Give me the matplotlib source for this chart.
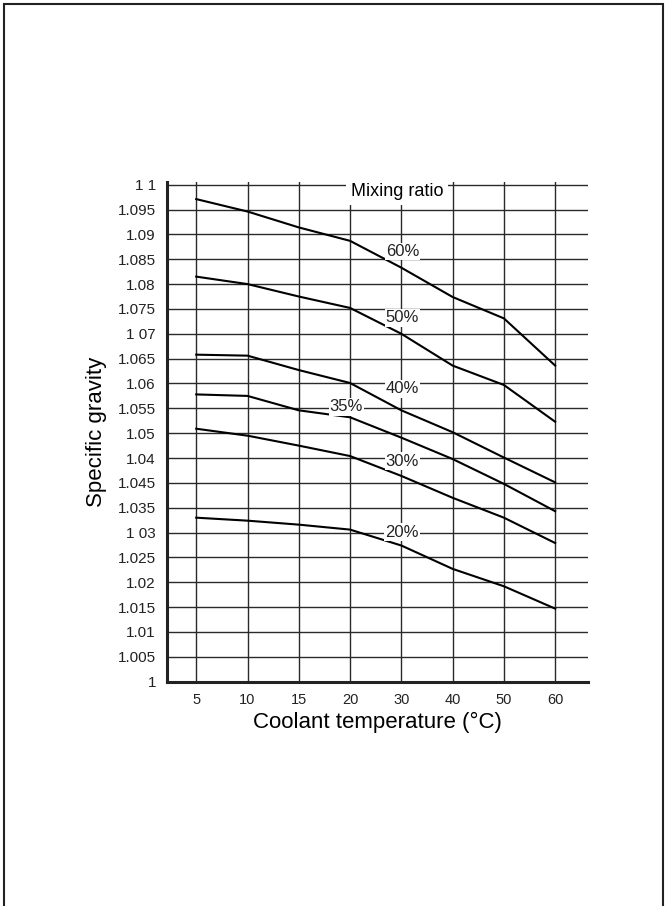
"""
Specific gravity of coolant vs temperature, by mixing ratio
"""

import matplotlib.pyplot as plt
from matplotlib.patches import Rectangle

plt.rcParams['font.family'] = ['Liberation Sans', 'DejaVu Sans']

# x categories (evenly spaced on the chart)
temps = ['5', '10', '15', '20', '30', '40', '50', '60']

# specific gravity, one list per mixing ratio
sg_60 = [1.0971, 1.0946, 1.0914, 1.0887, 1.0833, 1.0774, 1.0731, 1.0636]
sg_50 = [1.0815, 1.0800, 1.0775, 1.0752, 1.0700, 1.0636, 1.0597, 1.0523]
sg_40 = [1.0658, 1.0656, 1.0627, 1.0601, 1.0546, 1.0502, 1.0451, 1.0401]
sg_35 = [1.0578, 1.0575, 1.0546, 1.0532, 1.0491, 1.0448, 1.0398, 1.0343]
sg_30 = [1.0509, 1.0495, 1.0475, 1.0454, 1.0414, 1.0370, 1.0330, 1.0279]
sg_20 = [1.0330, 1.0324, 1.0316, 1.0306, 1.0274, 1.0227, 1.0192, 1.0147]

series = [sg_60, sg_50, sg_40, sg_35, sg_30, sg_20]
ratio_labels = ['60%', '50%', '40%', '35%', '30%', '20%']
# where each ratio label sits (x index, value)
label_pos = [(4.02, 1.0865), (4.02, 1.0732), (4.02, 1.0589),
             (2.93, 1.0553), (4.02, 1.0444), (4.02, 1.0301)]

# y ticks and labels as printed on the original
y_ticks = [1.1, 1.095, 1.09, 1.085, 1.08, 1.075, 1.07, 1.065, 1.06, 1.055,
           1.05, 1.045, 1.04, 1.035, 1.03, 1.025, 1.02, 1.015, 1.01, 1.005, 1.0]
y_labels = ['1 1', '1.095', '1.09', '1.085', '1.08', '1.075', '1 07', '1.065',
            '1.06', '1.055', '1.05', '1.04', '1.045', '1.035', '1 03', '1.025',
            '1.02', '1.015', '1.01', '1.005', '1']


def main():
    fig = plt.figure(figsize=(6.69, 9.06), dpi=100)
    fig.patches.append(Rectangle((3.5 / 669, -0.01), 659.5 / 669, 1 - 4 / 906 + 0.01,
                                 transform=fig.transFigure, fill=False,
                                 edgecolor='#222222', linewidth=1.5))

    ax = fig.add_axes([167 / 669, 1 - 681.7 / 906, (588 - 167) / 669, (681.7 - 181.7) / 906])

    x = list(range(len(temps)))
    for vals in series:
        ax.plot(x, vals, color='black', linewidth=1.5, zorder=3)

    for lab, (lx, ly) in zip(ratio_labels, label_pos):
        ax.text(lx, ly, lab, ha='center', va='center', fontsize=12, zorder=4,
                color='#222222', bbox=dict(facecolor='white', edgecolor='none', pad=0.8))

    ax.text(3.92, 1.0986, 'Mixing ratio', ha='center', va='center', fontsize=13,
            zorder=4, bbox=dict(facecolor='white', edgecolor='none', pad=3.5))

    ax.set_xlim(-0.57, 7.64)
    ax.set_ylim(1.0, 1.1006)
    ax.set_xticks(x)
    ax.set_xticklabels(temps, fontsize=10.5)
    ax.set_yticks(y_ticks)
    ax.set_yticklabels(y_labels, fontsize=11)
    ax.tick_params(axis='both', length=0, colors='#222222')
    ax.tick_params(axis='x', pad=8)
    ax.tick_params(axis='y', pad=8)

    ax.grid(True, color='#2a2a2a', linewidth=1.0)
    ax.set_axisbelow(True)
    for side in ['top', 'right']:
        ax.spines[side].set_visible(False)
    for side in ['left', 'bottom']:
        ax.spines[side].set_linewidth(2.2)
        ax.spines[side].set_color('#222222')

    ax.set_xlabel('Coolant temperature (°C)', fontsize=16, labelpad=4)
    ax.set_ylabel('Specific gravity', fontsize=16, labelpad=8)

    fig.savefig('out.png', dpi=100)


if __name__ == "__main__":
    main()
